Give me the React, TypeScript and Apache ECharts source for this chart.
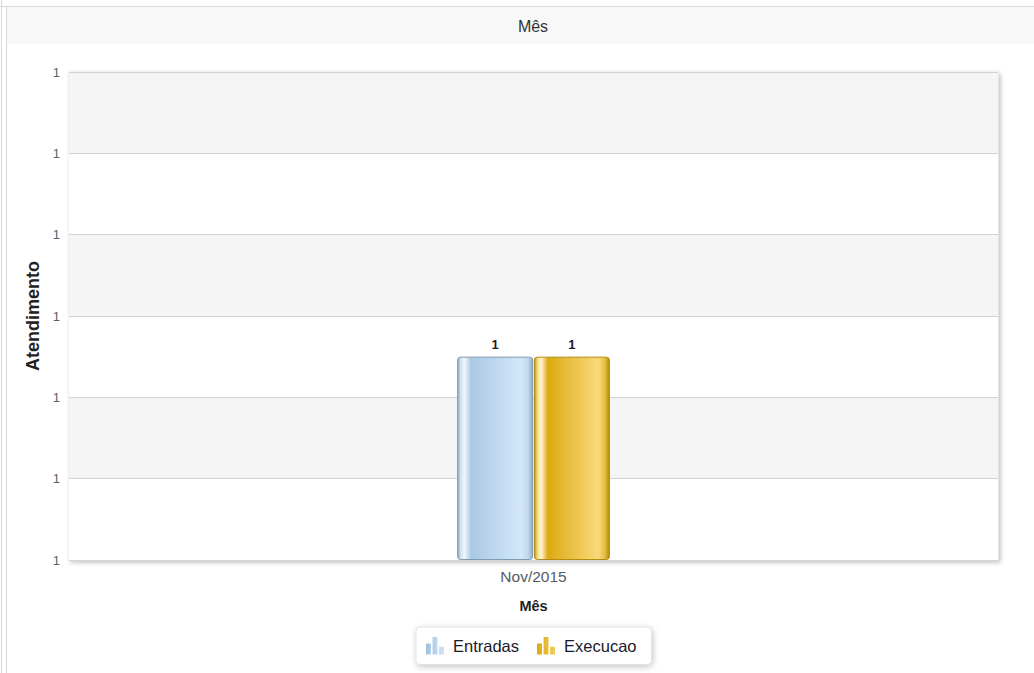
import React, { useEffect, useRef } from "react";
import * as echarts from "echarts";

const categories = ["Nov/2015"];
const entradas = [1];
const execucao = [1];
const yTickLabels = ["1", "1", "1", "1", "1", "1", "1"];
const seriesNames = ["Entradas", "Execucao"];

const FONT = "Arial, 'Liberation Sans', sans-serif";
const barIcon =
  "path://M0,6h4.5v10h-4.5z M6,0h4.5v16h-4.5z M12,9h4.5v7h-4.5z";

const blueGrad = new echarts.graphic.LinearGradient(0, 0, 1, 0, [
  { offset: 0, color: "#8eaac2" },
  { offset: 0.04, color: "#cfe0ee" },
  { offset: 0.09, color: "#f2f8fc" },
  { offset: 0.18, color: "#a9c9e3" },
  { offset: 0.85, color: "#d3e7f9" },
  { offset: 0.94, color: "#c2d8ec" },
  { offset: 1, color: "#8eaac2" },
]);
const goldGrad = new echarts.graphic.LinearGradient(0, 0, 1, 0, [
  { offset: 0, color: "#b88f00" },
  { offset: 0.04, color: "#f2d88a" },
  { offset: 0.09, color: "#fff5d6" },
  { offset: 0.18, color: "#dcaa12" },
  { offset: 0.85, color: "#f9d97a" },
  { offset: 0.94, color: "#e6bd44" },
  { offset: 1, color: "#b48a00" },
]);
const blueIcon = new echarts.graphic.LinearGradient(0, 0, 1, 0, [
  { offset: 0, color: "#9fc2e0" },
  { offset: 1, color: "#cfe3f5" },
]);
const goldIcon = new echarts.graphic.LinearGradient(0, 0, 1, 0, [
  { offset: 0, color: "#dba710" },
  { offset: 1, color: "#f3cd5a" },
]);

export default function App() {
  const ref = useRef<HTMLDivElement>(null);
  useEffect(() => {
    const chart = echarts.init(ref.current!, null, { renderer: "svg" });
    chart.setOption({
      animation: false,
      backgroundColor: "#ffffff",
      textStyle: { fontFamily: FONT },
      graphic: [
        { type: "rect", shape: { x: 7, y: 7, width: 1027, height: 37 }, style: { fill: "#f8f8f8" }, silent: true, z: -10 },
        { type: "line", shape: { x1: 0, y1: 6.5, x2: 1034, y2: 6.5 }, style: { stroke: "#d9d9d9", lineWidth: 1 }, z: -5 },
        { type: "line", shape: { x1: 1.5, y1: 0, x2: 1.5, y2: 673 }, style: { stroke: "#d9d9d9", lineWidth: 1 }, z: -5 },
        { type: "line", shape: { x1: 6.5, y1: 6, x2: 6.5, y2: 673 }, style: { stroke: "#d9d9d9", lineWidth: 1 }, z: -5 },
        {
          type: "text",
          x: 533,
          y: 26,
          style: {
            text: "Mês",
            fontSize: 16,
            fontFamily: FONT,
            fill: "#333",
            textAlign: "center",
            textVerticalAlign: "middle",
          },
          z: 10,
        },
      ],
      legend: {
        data: seriesNames.map((n, i) => ({
          name: n,
          icon: barIcon,
          itemStyle: { color: i === 0 ? blueIcon : goldIcon, borderWidth: 0 },
        })),
        left: 416,
        top: 627,
        backgroundColor: "#ffffff",
        borderColor: "#e2e2e2",
        borderWidth: 1,
        borderRadius: 4,
        shadowBlur: 6,
        shadowColor: "rgba(0,0,0,0.22)",
        shadowOffsetX: 1,
        shadowOffsetY: 2,
        padding: [10, 15, 10, 10],
        itemGap: 18,
        itemWidth: 18,
        itemHeight: 18,
        textStyle: { fontSize: 16.5, color: "#1a1a2a", fontFamily: FONT, padding: [0, 0, 0, 4] },
      },
      grid: {
        left: 69,
        right: 36,
        top: 72,
        bottom: 113,
        show: true,
        backgroundColor: "#ffffff",
        borderColor: "#e8e8e8",
        borderWidth: 1,
        shadowBlur: 4,
        shadowColor: "rgba(0,0,0,0.25)",
        shadowOffsetX: 2,
        shadowOffsetY: 2,
      },
      xAxis: {
        type: "category",
        data: categories,
        name: "Mês",
        nameLocation: "middle",
        nameGap: 38,
        nameTextStyle: { fontSize: 14.5, fontWeight: "bold", color: "#222", fontFamily: FONT },
        axisLine: { show: true, lineStyle: { color: "#d6d6d6", width: 1 } },
        axisTick: { show: false },
        axisLabel: { fontSize: 15.5, color: "#555b66", margin: 8, fontFamily: FONT },
      },
      yAxis: {
        type: "value",
        min: 0,
        max: 2.4,
        interval: 0.4,
        name: "Atendimento",
        nameLocation: "middle",
        nameGap: 27,
        nameRotate: 90,
        nameTextStyle: { fontSize: 18, fontWeight: "bold", color: "#222", fontFamily: FONT },
        axisLine: { show: false },
        axisTick: { show: false },
        axisLabel: {
          fontSize: 13,
          color: "#5a6070",
          margin: 9,
          fontFamily: FONT,
          formatter: (_v: number, idx: number) => yTickLabels[idx] ?? "",
        },
        splitLine: { show: true, lineStyle: { color: "#d2d2d2", width: 1 } },
        splitArea: { show: true, areaStyle: { color: ["#ffffff", "#f5f5f5"] } },
      },
      series: [
        {
          name: seriesNames[0],
          type: "bar",
          data: entradas,
          barWidth: 76,
          barGap: "1%",
          itemStyle: { color: blueGrad, borderColor: "#7f9ab4", borderWidth: 1, borderRadius: 3 },
          label: { show: true, position: "top", distance: 6, fontSize: 13, fontWeight: "bold", color: "#1c1c2c", fontFamily: FONT },
        },
        {
          name: seriesNames[1],
          type: "bar",
          data: execucao,
          barWidth: 76,
          itemStyle: { color: goldGrad, borderColor: "#b38c10", borderWidth: 1, borderRadius: 3 },
          label: { show: true, position: "top", distance: 6, fontSize: 13, fontWeight: "bold", color: "#1c1c2c", fontFamily: FONT },
        },
      ],
    });
    return () => chart.dispose();
  }, []);
  return (
    <div
      ref={ref}
      style={{ position: "fixed", left: 0, top: 0, width: 1034, height: 673 }}
    />
  );
}
